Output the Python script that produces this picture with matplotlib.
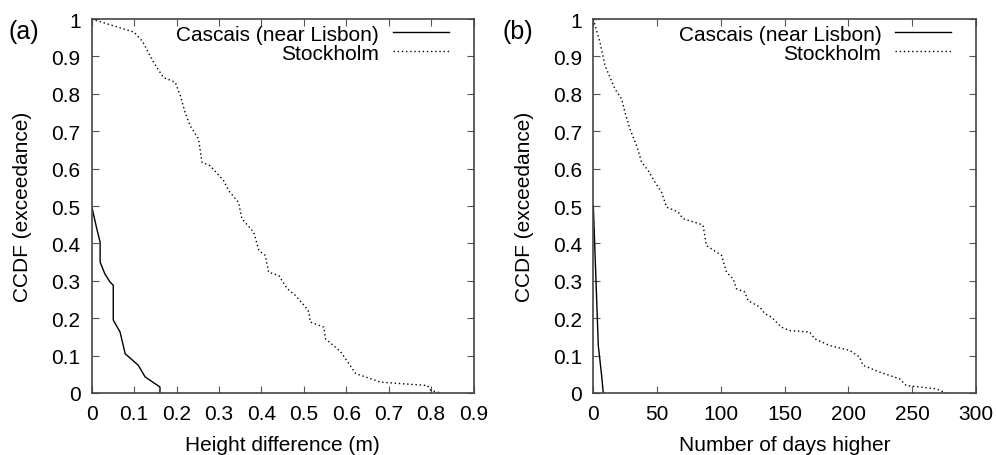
import numpy as np
import matplotlib
matplotlib.use('Agg')
import matplotlib.pyplot as plt

plt.rcParams['font.family'] = ['Liberation Sans', 'DejaVu Sans']
plt.rcParams['font.size'] = 15

# Data
# ---------------------------
# (a) height difference (m) vs CCDF
stock_h_x = [0, 0.10, 0.12, 0.146, 0.169, 0.197, 0.209, 0.22, 0.232, 0.252, 0.26, 0.279,
             0.311, 0.323, 0.346, 0.354, 0.382, 0.394, 0.409, 0.417, 0.441, 0.461, 0.48,
             0.504, 0.512, 0.515, 0.547, 0.551, 0.587, 0.622, 0.681, 0.791, 0.799, 0.823]
stock_h_y = [1.0, 0.965, 0.94, 0.884, 0.844, 0.831, 0.795, 0.751, 0.715, 0.679, 0.617, 0.608,
             0.568, 0.541, 0.51, 0.466, 0.43, 0.381, 0.368, 0.323, 0.314, 0.279, 0.261,
             0.23, 0.216, 0.19, 0.176, 0.145, 0.11, 0.052, 0.029, 0.02, 0.007, 0.0]
casc_h_x = [0, 0.012, 0.02, 0.02, 0.031, 0.043, 0.051, 0.051, 0.067, 0.079, 0.11, 0.126, 0.161, 0.161]
casc_h_y = [0.5, 0.44, 0.403, 0.35, 0.319, 0.297, 0.288, 0.195, 0.163, 0.105, 0.074, 0.043, 0.016, 0.0]

# (b) number of days higher vs CCDF
stock_d_x = [0, 5.2, 9.2, 17, 22.2, 24.8, 28.7, 34, 37.9, 43, 48.3, 53.5, 57.4, 66.5, 70.4,
             83.5, 86, 88.7, 96.5, 100.5, 104.4, 109.6, 112.2, 118.7, 121.3, 130.4, 134.4,
             139.6, 147.4, 153.9, 169.6, 173.5, 185.2, 200.8, 208.7, 211.3, 224.3, 240,
             245.2, 268.7, 276.5]
stock_d_y = [1.0, 0.938, 0.875, 0.813, 0.786, 0.751, 0.706, 0.661, 0.617, 0.595, 0.564, 0.537,
             0.497, 0.484, 0.466, 0.452, 0.448, 0.394, 0.377, 0.368, 0.323, 0.305, 0.279,
             0.27, 0.247, 0.23, 0.212, 0.203, 0.176, 0.167, 0.163, 0.145, 0.127, 0.114,
             0.096, 0.074, 0.056, 0.038, 0.02, 0.011, 0.0]
casc_d_x = [0, 1.3, 2.6, 3.9, 6.5, 7.8]
casc_d_y = [0.5, 0.377, 0.252, 0.127, 0.047, 0.0]

yticks = np.round(np.arange(0, 1.01, 0.1), 1)
xticks_a = np.round(np.arange(0, 0.91, 0.1), 1)
xticks_b = [0, 50, 100, 150, 200, 250, 300]


def fmt(v):
    return '%g' % v


def style_axes(ax, xticks, xlabel):
    ax.set_ylim(0, 1)
    ax.set_yticks(yticks)
    ax.set_yticklabels([fmt(v) for v in yticks])
    ax.set_xticks(xticks)
    ax.set_xticklabels([fmt(v) for v in xticks])
    ax.set_xlim(xticks[0], xticks[-1])
    ax.tick_params(direction='in', top=True, right=True, length=5, width=0.8,
                   color='#555555', labelsize=15, pad=8)
    for s in ax.spines.values():
        s.set_linewidth(1.2)
        s.set_color('#444444')
    ax.set_xlabel(xlabel, fontsize=15)
    ax.set_ylabel('CCDF (exceedance)', fontsize=15)
    ax.xaxis.set_label_coords(0.5, -0.112)
    ax.yaxis.set_label_coords(-0.155, 0.5)
    ax.legend(loc='upper right', bbox_to_anchor=(0.935, 0.985), frameon=False,
              markerfirst=False, borderpad=0, borderaxespad=0, labelspacing=0.0,
              handlelength=2.7, handletextpad=0.65, fontsize=15)


fig = plt.figure(figsize=(9.96, 4.56), dpi=100)
ax1 = fig.add_axes([0.0920, 0.136, 0.3835, 0.820])
ax2 = fig.add_axes([0.5957, 0.136, 0.3843, 0.820])

ax1.plot(casc_h_x, casc_h_y, color='black', linestyle='solid', linewidth=1.0,
         label='Cascais (near Lisbon)')
ax1.plot(stock_h_x, stock_h_y, color='black', linestyle=(0, (1, 2)), linewidth=1.0,
         label='Stockholm')
style_axes(ax1, xticks_a, 'Height difference (m)')

ax2.plot(casc_d_x, casc_d_y, color='black', linestyle='solid', linewidth=1.0,
         label='Cascais (near Lisbon)')
ax2.plot(stock_d_x, stock_d_y, color='black', linestyle=(0, (1, 2)), linewidth=1.0,
         label='Stockholm')
style_axes(ax2, xticks_b, 'Number of days higher')

fig.text(9 / 996, 1 - 32 / 456, '(a)', fontsize=18, va='center', ha='left')
fig.text(503 / 996, 1 - 32 / 456, '(b)', fontsize=18, va='center', ha='left')

fig.savefig('out.png', dpi=100)
